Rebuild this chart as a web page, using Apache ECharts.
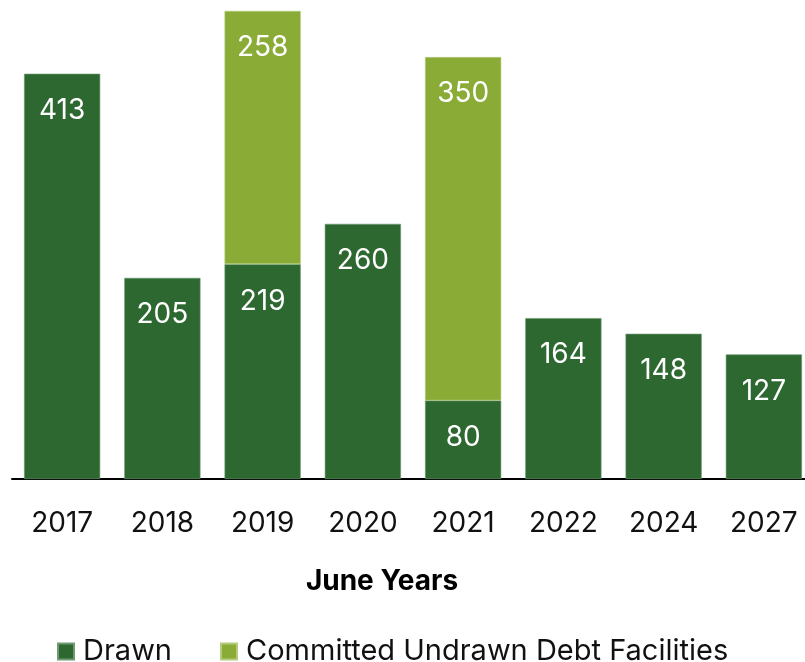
<!DOCTYPE html>
<html>
<head>
<meta charset="utf-8">
<script src="https://cdn.jsdelivr.net/npm/echarts@6/dist/echarts.min.js"></script>
<style>
  html, body { margin: 0; padding: 0; background: #ffffff; }
  #chart { width: 805px; height: 662px; }
</style>
</head>
<body>
<div id="chart"></div>
<script>
// Debt maturity profile by June year
const years = ['2017', '2018', '2019', '2020', '2021', '2022', '2024', '2027'];
const drawn = [413, 205, 219, 260, 80, 164, 148, 127];
const undrawn = [null, null, 258, null, 350, null, null, null];
const axisTitle = 'June Years';

const FONT = 'Inter, "Noto Sans", sans-serif';
const DARK = '#2d6831';
const LIGHT = '#8aab35';

const chart = echarts.init(document.getElementById('chart'));

const labelStyle = {
  show: true,
  position: 'insideTop',
  distance: 23,
  color: '#ffffff',
  fontSize: 28,
  fontFamily: FONT
};

chart.setOption({
  animation: false,
  textStyle: { fontFamily: FONT },
  // the last category runs slightly past the right edge of the canvas
  grid: { left: 12, width: 802, top: 8, height: 471, containLabel: false, outerBoundsMode: 'none' },
  legend: {
    left: 52,
    top: 632,
    itemWidth: 16,
    itemHeight: 16,
    itemGap: 48,
    icon: 'rect',
    textStyle: { fontSize: 29, color: '#111111', fontFamily: FONT, padding: [0, 0, 0, 4] },
    data: ['Drawn', 'Committed Undrawn Debt Facilities']
  },
  graphic: [{
    type: 'text',
    x: 382,
    y: 582,
    style: {
      text: axisTitle,
      fontSize: 28,
      fontWeight: 'bold',
      fill: '#000000',
      fontFamily: FONT,
      align: 'center',
      verticalAlign: 'middle'
    }
  }],
  xAxis: {
    type: 'category',
    data: years,
    axisLine: { lineStyle: { color: '#000000', width: 2 } },
    axisTick: { show: false },
    axisLabel: { fontSize: 28, color: '#111111', margin: 31, fontFamily: FONT }
  },
  yAxis: {
    type: 'value',
    min: 0,
    max: 480,
    show: false,
    splitLine: { show: false }
  },
  series: [
    {
      name: 'Drawn',
      type: 'bar',
      stack: 'debt',
      barCategoryGap: '24%',
      data: drawn,
      itemStyle: { color: DARK, borderColor: '#6f9a72', borderWidth: 0.6 },
      label: labelStyle
    },
    {
      name: 'Committed Undrawn Debt Facilities',
      type: 'bar',
      stack: 'debt',
      barCategoryGap: '24%',
      data: undrawn,
      itemStyle: { color: LIGHT, borderColor: '#b5cc7e', borderWidth: 0.6 },
      label: labelStyle
    }
  ]
});
</script>
</body>
</html>
